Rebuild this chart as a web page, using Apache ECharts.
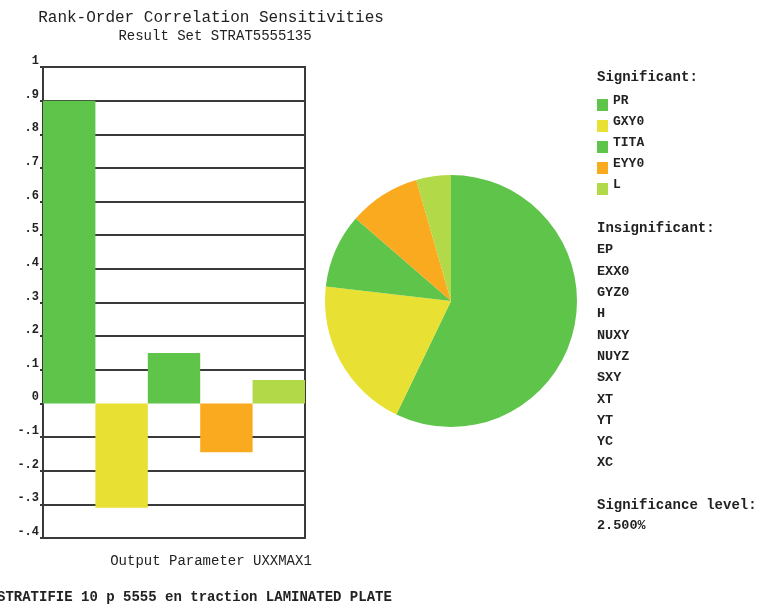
<!DOCTYPE html>
<html>
<head>
<meta charset="utf-8">
<script src="https://cdn.jsdelivr.net/npm/echarts@6/dist/echarts.min.js"></script>
<style>
  html, body { margin: 0; padding: 0; background: #fff; }
  #chart { width: 767px; height: 610px; }
</style>
</head>
<body>
<div id="chart"></div>
<script>
// Significant input parameters and their rank-order correlation with UXXMAX1
const paramNames = ['PR', 'GXY0', 'TITA', 'EYY0', 'L'];
const correlations = [0.9, -0.31, 0.15, -0.145, 0.07];
const paramColors = ['#5ec44a', '#e8e032', '#5ec44a', '#f9aa1e', '#b2da48'];

// Parameters below the significance threshold
const insignificantNames = ['EP', 'EXX0', 'GYZ0', 'H', 'NUXY', 'NUYZ', 'SXY', 'XT', 'YT', 'YC', 'XC'];
const significanceLevel = '2.500%';

// Value axis ticks
const yTicks = [-0.4, -0.3, -0.2, -0.1, 0, 0.1, 0.2, 0.3, 0.4, 0.5, 0.6, 0.7, 0.8, 0.9, 1];
const yTickLabels = ['-.4', '-.3', '-.2', '-.1', '0', '.1', '.2', '.3', '.4', '.5', '.6', '.7', '.8', '.9', '1'];

const MONO = "'Liberation Mono', 'DejaVu Sans Mono', monospace";
const INK = '#222';
const RULE = '#3a3a3a';

const chart = echarts.init(document.getElementById('chart'), null, { renderer: 'canvas' });

const barData = correlations.map((v, i) => ({
  value: v,
  itemStyle: { color: paramColors[i] }
}));

// Pie slices are sized by the magnitude of each correlation
const pieData = correlations.map((v, i) => ({
  name: paramNames[i],
  value: Math.abs(v),
  itemStyle: { color: paramColors[i] }
}));

// The zero rule sits entirely behind the bars, so leave it undrawn
const splitColors = yTicks.map(v => (Math.abs(v) < 1e-9 ? 'rgba(0,0,0,0)' : RULE));

// Side panel text
const sideGraphics = [];
sideGraphics.push({
  type: 'text', x: 597, y: 77,
  style: { text: 'Significant:', font: 'bold 14px ' + MONO, fill: INK, verticalAlign: 'middle' }
});
sideGraphics.push({
  type: 'text', x: 597, y: 228,
  style: { text: 'Insignificant:', font: 'bold 14px ' + MONO, fill: INK, verticalAlign: 'middle' }
});
insignificantNames.forEach((n, i) => {
  sideGraphics.push({
    type: 'text', x: 597, y: 250 + i * 21.3,
    style: { text: n, font: 'bold 13.5px ' + MONO, fill: INK, verticalAlign: 'middle' }
  });
});
sideGraphics.push({
  type: 'text', x: 597, y: 505,
  style: { text: 'Significance level:', font: 'bold 14px ' + MONO, fill: INK, verticalAlign: 'middle' }
});
sideGraphics.push({
  type: 'text', x: 597, y: 526,
  style: { text: significanceLevel, font: 'bold 13.5px ' + MONO, fill: INK, verticalAlign: 'middle' }
});
// Footer caption
sideGraphics.push({
  type: 'text', x: -3, y: 597,
  style: { text: 'STRATIFIE 10 p 5555 en traction LAMINATED PLATE', font: 'bold 14px ' + MONO, fill: INK, verticalAlign: 'middle' }
});

chart.setOption({
  animation: false,
  backgroundColor: '#fff',
  title: [
    {
      text: 'Rank-Order Correlation Sensitivities',
      left: 206, top: 5, textAlign: 'center',
      textStyle: { fontFamily: MONO, fontSize: 16, fontWeight: 'normal', color: INK }
    },
    {
      text: 'Result Set STRAT5555135',
      left: 210, top: 24, textAlign: 'center',
      textStyle: { fontFamily: MONO, fontSize: 14, fontWeight: 'normal', color: INK }
    },
    {
      text: 'Output Parameter UXXMAX1',
      left: 206, top: 549, textAlign: 'center',
      textStyle: { fontFamily: MONO, fontSize: 14, fontWeight: 'normal', color: INK }
    }
  ],
  legend: {
    data: paramNames,
    orient: 'vertical',
    left: 597, top: 90,
    padding: 0,
    itemWidth: 11, itemHeight: 21, itemGap: 0,
    icon: 'path://M0,0 M11,0 M0,9 L11,9 L11,21 L0,21 Z',
    selectedMode: false,
    textStyle: { fontFamily: MONO, fontSize: 13, fontWeight: 'bold', color: INK }
  },
  graphic: sideGraphics,
  grid: {
    left: 43, top: 67, width: 262, height: 471,
    show: true, borderColor: RULE, borderWidth: 2,
    containLabel: false, outerBoundsMode: 'none'
  },
  xAxis: {
    type: 'category',
    data: paramNames,
    axisLine: { show: false },
    axisTick: { show: false },
    axisLabel: { show: false },
    splitLine: { show: false }
  },
  yAxis: {
    type: 'value',
    min: yTicks[0], max: yTicks[yTicks.length - 1], interval: 0.1,
    axisLine: { show: true, lineStyle: { color: RULE, width: 2 } },
    axisTick: { show: true, length: 3, lineStyle: { color: RULE, width: 2 } },
    axisLabel: {
      margin: 4,
      verticalAlign: 'bottom',
      fontFamily: MONO, fontSize: 12, fontWeight: 'bold', color: INK,
      formatter: (v, i) => yTickLabels[i]
    },
    splitLine: { show: true, lineStyle: { color: splitColors, width: 2 } }
  },
  series: [
    {
      type: 'bar',
      data: barData,
      barCategoryGap: '0%',
      silent: true
    },
    {
      type: 'pie',
      center: [451, 301],
      radius: 126,
      startAngle: 90,
      clockwise: true,
      label: { show: false },
      labelLine: { show: false },
      silent: true,
      data: pieData
    }
  ]
});
</script>
</body>
</html>
